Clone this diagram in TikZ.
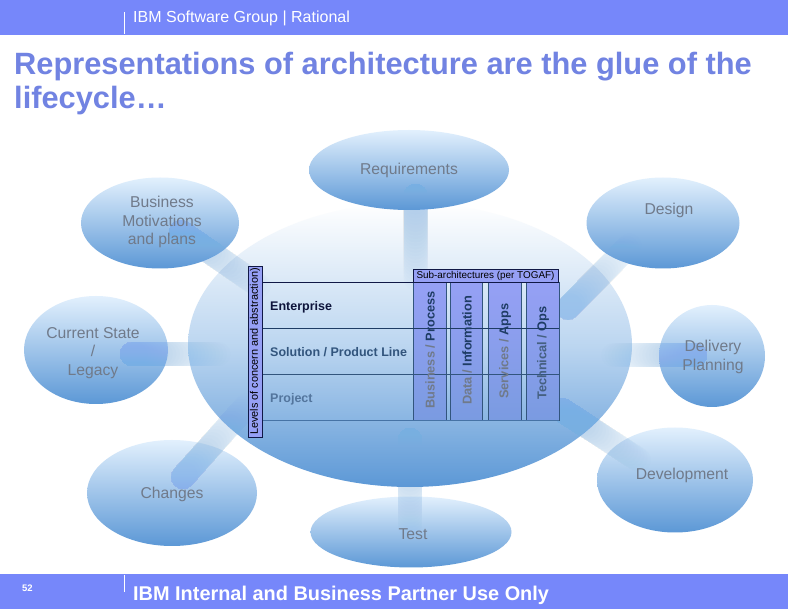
\documentclass[tikz,border=0pt]{standalone}
\usepackage{fontspec}
\setmainfont{Liberation Sans}
\usetikzlibrary{shapes.geometric,calc}
\definecolor{bandblue}{RGB}{118,135,250}
\definecolor{titleblue}{RGB}{113,131,226}
\definecolor{lighttop}{RGB}{226,240,253}
\definecolor{darkbottom}{RGB}{92,152,214}
\definecolor{barblue}{RGB}{120,175,235}
\definecolor{labelgrey}{RGB}{112,122,138}
\definecolor{boxblue}{RGB}{150,160,245}
\definecolor{colbottom}{RGB}{122,155,225}
\definecolor{navy}{RGB}{16,24,70}
\definecolor{rowa}{RGB}{30,60,100}
\definecolor{rowb}{RGB}{50,85,125}
\definecolor{rowc}{RGB}{70,115,165}

\begin{document}
\begin{tikzpicture}[x=1pt,y=-1pt]
    \tikzstyle{every node}=[font=\fontsize{15.7}{18.5}\selectfont]
    \tikzstyle{phase}=[ellipse,inner sep=0pt,top color=lighttop,bottom color=darkbottom]
    \tikzstyle{linkbar}=[line width=24pt,line cap=round,draw=barblue,opacity=0.026]
    \tikzstyle{phasetext}=[text=labelgrey,align=center,inner sep=0pt]
    \tikzstyle{rowtext}=[anchor=west,inner sep=0pt,font=\fontsize{12.5}{15}\selectfont\bfseries]
    \tikzstyle{coltext}=[rotate=90,inner sep=0pt,font=\fontsize{12.8}{15}\selectfont\bfseries]
    \tikzstyle{column}=[draw=rowb,top color=boxblue,bottom color=colbottom]
    \tikzstyle{rowline}=[line width=0.8pt]

    \useasboundingbox (0,0) rectangle (788,609);
    \fill[white] (0,0) rectangle (788,609);
    \fill[bandblue] (0,0) rectangle (788,35);
    \fill[bandblue] (0,574) rectangle (788,609);
    \draw[white] (124,12) -- (124,34);
    \draw[white] (124,575) -- (124,592);

    \node (topline) [anchor=base west,inner sep=0pt,text=white] at (133,23)
    {\fontsize{16}{18}\selectfont IBM Software Group | Rational};
    \node (title) [anchor=north west,inner sep=0pt,text=titleblue,align=left,
    font=\fontsize{30.8}{34}\selectfont\bfseries] at (14,52)
    {Representations of architecture are the glue of the\\lifecycle…};
    \node (pageno) [inner sep=0pt,text=white,font=\fontsize{9.5}{11}\selectfont\bfseries]
    at (27.5,588) {52};
    \node (footer) [anchor=base west,inner sep=0pt,text=white,
    font=\fontsize{19.9}{22}\selectfont\bfseries] at (133,601)
    {IBM Internal and Business Partner Use Only};

    \node (core) [ellipse,inner sep=0pt,minimum width=444pt,minimum height=284pt,
    top color=white,bottom color=darkbottom,middle color=lighttop!55!darkbottom!75!white]
    at (410,345) {};

    \node (req) [phase,minimum width=200pt,minimum height=80pt] at (409,170) {};
    \node (biz) [phase,minimum width=158pt,minimum height=91pt] at (160,223) {};
    \node (design) [phase,minimum width=153pt,minimum height=91pt] at (663,223) {};
    \node (legacy) [phase,minimum width=144pt,minimum height=108pt] at (96,350) {};
    \node (delivery) [phase,minimum width=106pt,minimum height=102pt] at (712,356) {};
    \node (changes) [phase,minimum width=170pt,minimum height=106pt] at (172,493) {};
    \node (testing) [phase,minimum width=201pt,minimum height=71pt] at (411,532) {};
    \node (dev) [phase,minimum width=156pt,minimum height=105pt] at (675,480) {};

    \coordinate (reqa) at (415.5,196);
    \coordinate (reqb) at (415.5,282);
    \coordinate (biza) at (181,232);
    \coordinate (bizb) at (262,288);
    \coordinate (designa) at (568,308);
    \coordinate (designb) at (632,243);
    \coordinate (legacya) at (132,354);
    \coordinate (legacyb) at (222,354);
    \coordinate (deliverya) at (695,355);
    \coordinate (deliveryb) at (610,355);
    \coordinate (changesa) at (183,477);
    \coordinate (changesb) at (250,402);
    \coordinate (testa) at (410,440);
    \coordinate (testb) at (410,530);
    \coordinate (deva) at (562,410);
    \coordinate (devb) at (642,462);

    \foreach \barfrom/\barto in {reqa/reqb,biza/bizb,designa/designb,legacya/legacyb,
    deliverya/deliveryb,changesa/changesb,testa/testb,deva/devb}
        \foreach \barpart in {0.04,0.08,...,1.0}
            \draw[linkbar] (\barfrom) -- ($(\barfrom)!\barpart!(\barto)$);

    \node (reqtext) [phasetext] at (409,170.5) {Requirements};
    \node (biztext) [phasetext] at (162,222) {Business\\Motivations\\and plans};
    \node (designtext) [phasetext] at (669,210) {Design};
    \node (legacytext) [phasetext] at (93,353) {Current State\\/\\Legacy};
    \node (deliverytext) [phasetext] at (713,357) {Delivery\\Planning};
    \node (changestext) [phasetext] at (172,494) {Changes};
    \node (testtext) [phasetext] at (413,534) {Test};
    \node (devtext) [phasetext] at (682,475) {Development};

    \node (colbiz) [column,minimum width=33pt,minimum height=138pt,inner sep=0pt] at (429.5,351) {};
    \node (coldata) [column,minimum width=32pt,minimum height=138pt,inner sep=0pt] at (466,351) {};
    \node (colapps) [column,minimum width=33pt,minimum height=138pt,inner sep=0pt] at (504.5,351) {};
    \node (colops) [column,minimum width=33pt,minimum height=138pt,inner sep=0pt] at (542.5,351) {};

    \coordinate (rowaw) at (262,282);
    \coordinate (rowae) at (559,282);
    \coordinate (rowbw) at (262,328);
    \coordinate (rowbe) at (559,328);
    \coordinate (rowcw) at (262,374);
    \coordinate (rowce) at (559,374);
    \coordinate (rowdw) at (262,420);
    \coordinate (rowde) at (559,420);
    \draw[rowline,navy] (rowaw) -- (rowae);
    \draw[rowline,rowa] (rowbw) -- (rowbe);
    \draw[rowline,rowb] (rowcw) -- (rowce);
    \draw[rowline,rowc] (rowdw) -- (rowde);

    \node (subarch) [draw=navy,fill=boxblue,minimum width=145pt,minimum height=12.5pt,
    inner sep=0pt,font=\fontsize{9.9}{12}\selectfont] at (485.5,275.75)
    {Sub-architectures (per TOGAF)};
    \node (levels) [draw=navy,fill=boxblue,rotate=90,minimum width=171pt,minimum height=14pt,
    inner sep=0pt,font=\fontsize{10.9}{12}\selectfont] at (255,351.5)
    {Levels of concern and abstraction)};

    \node (enterprise) [rowtext,text=navy!85!black] at (270,307) {Enterprise};
    \node (solution) [rowtext,text=rowb] at (270,352) {Solution / Product Line};
    \node (project) [rowtext,text=rowc!70!labelgrey] at (270,399) {Project};

    \node (bizcol) [coltext] at (430,350)
    {\textcolor{labelgrey}{Business /} \textcolor{rowa}{Process}};
    \node (datacol) [coltext] at (467,350.5)
    {\textcolor{labelgrey}{Data /} \textcolor{rowa}{Information}};
    \node (appscol) [coltext] at (505,351)
    {\textcolor{labelgrey}{Services /} \textcolor{rowa}{Apps}};
    \node (opscol) [coltext] at (543,353)
    {\textcolor{rowb!70!labelgrey}{Technical /} \textcolor{rowa}{Ops}};

\end{tikzpicture}
\end{document}
